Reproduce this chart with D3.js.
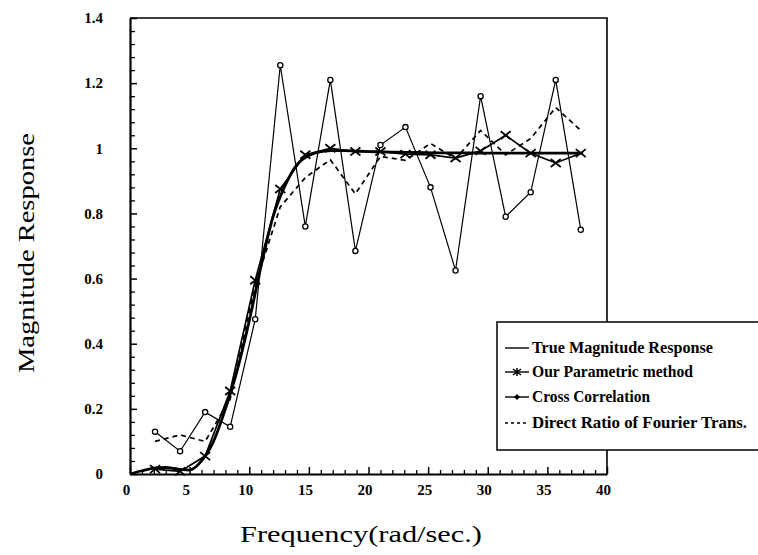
<!DOCTYPE html>
<html>
<head>
<meta charset="utf-8">
<script src="https://cdn.jsdelivr.net/npm/d3@7"></script>
<style>
  body { margin: 0; background: #fff; }
  text { font-family: 'Liberation Serif', 'DejaVu Serif', serif; fill: #000; }
</style>
</head>
<body>
<div id="grafico"></div>
<script>
// sample frequencies (rad/sec) of the estimates
const freq = [2.1, 4.2, 6.3, 8.4, 10.5, 12.6, 14.7, 16.8, 18.9, 21.0, 23.1, 25.2, 27.3, 29.4, 31.5, 33.6, 35.7, 37.8]
const parametric = [0.015, 0.008, 0.055, 0.255, 0.595, 0.875, 0.98, 1.0, 0.99, 0.99, 0.982, 0.98, 0.97, 0.992, 1.04, 0.985, 0.955, 0.985]
const crossCorr = [0.13, 0.07, 0.19, 0.145, 0.475, 1.255, 0.76, 1.21, 0.685, 1.01, 1.065, 0.88, 0.625, 1.16, 0.79, 0.865, 1.21, 0.75]
const directRatio = [0.10, 0.12, 0.10, 0.23, 0.58, 0.82, 0.91, 0.965, 0.86, 0.975, 0.963, 1.015, 0.968, 1.055, 0.98, 1.03, 1.125, 1.055]

// true magnitude response
const trueFreq = [0, 1, 2, 3, 4, 5, 6, 7, 8, 9, 10, 11, 12, 13, 14, 15, 16, 17, 18, 19, 20, 22, 24, 26, 28, 30, 32, 34, 36, 38]
const trueMag = [0, 0.01, 0.018, 0.02, 0.015, 0.012, 0.04, 0.1, 0.2, 0.32, 0.47, 0.64, 0.79, 0.885, 0.95, 0.978, 0.99, 0.993, 0.993, 0.991, 0.99, 0.988, 0.987, 0.986, 0.986, 0.985, 0.985, 0.985, 0.985, 0.985]

const xTicks = [0, 5, 10, 15, 20, 25, 30, 35, 40]
const yTicks = [0, 0.2, 0.4, 0.6, 0.8, 1, 1.2, 1.4]
const xMinor = [1, 2, 3, 4, 6, 7, 8, 9, 11, 12, 13, 14, 16, 17, 18, 19, 21, 22, 23, 24, 26, 27, 28, 29, 31, 32, 33, 34, 36, 37, 38, 39]
const yMinor = [0.04, 0.08, 0.12, 0.16, 0.24, 0.28, 0.32, 0.36, 0.44, 0.48, 0.52, 0.56, 0.64, 0.68, 0.72, 0.76, 0.84, 0.88, 0.92, 0.96, 1.04, 1.08, 1.12, 1.16, 1.24, 1.28, 1.32, 1.36]

const legendItems = ['True Magnitude Response', 'Our Parametric method', 'Cross Correlation', 'Direct Ratio of Fourier Trans.']

const width = 758
const height = 555

const svg = d3.select('#grafico')
              .append('svg')
              .attr('width', width)
              .attr('height', height)

const x = d3.scaleLinear().domain([0, 40]).range([130, 607])
const y = d3.scaleLinear().domain([0, 1.4]).range([474, 18])

// frame (top and right sides)
svg.append('path')
   .attr('d', `M${x(0)},${y(1.4)}H${x(40)}V${y(0)}`)
   .attr('fill', 'none')
   .attr('stroke', '#000')
   .attr('stroke-width', 1.6)

// minor ticks
svg.append('g')
   .attr('transform', `translate(0,${y(0)})`)
   .call(d3.axisBottom(x).tickValues(xMinor).tickSize(-4).tickSizeOuter(0).tickFormat(''))
   .call(g => g.select('.domain').remove())
   .selectAll('line').attr('stroke-width', 1.3)

svg.append('g')
   .attr('transform', `translate(${x(0)},0)`)
   .call(d3.axisLeft(y).tickValues(yMinor).tickSize(-5).tickSizeOuter(0).tickFormat(''))
   .call(g => g.select('.domain').remove())
   .selectAll('line').attr('stroke-width', 1.3)

// major axes
const xAxis = svg.append('g')
                 .attr('transform', `translate(0,${y(0)})`)
                 .call(d3.axisBottom(x).tickValues(xTicks).tickSize(-7).tickSizeOuter(0).tickPadding(10).tickFormat(d3.format('d')))

xAxis.select('.domain').attr('stroke-width', 2.2)
xAxis.selectAll('line').attr('stroke-width', 1.5)
xAxis.selectAll('text')
     .attr('dx', -4)
     .style('font-size', '15px')
     .style('font-weight', 'bold')
     .style('font-family', "'Liberation Serif', serif")

const yAxis = svg.append('g')
                 .attr('transform', `translate(${x(0)},0)`)
                 .call(d3.axisLeft(y).tickValues(yTicks).tickSize(-7).tickSizeOuter(0).tickPadding(27).tickFormat(d => d))

yAxis.select('.domain').attr('stroke-width', 2.2)
yAxis.selectAll('line').attr('stroke-width', 1.5)
yAxis.selectAll('text')
     .style('font-size', '15px')
     .style('font-weight', 'bold')
     .style('font-family', "'Liberation Serif', serif")

// axis titles
svg.append('text')
   .attr('transform', `translate(34,${253}) rotate(-90)`)
   .attr('text-anchor', 'middle')
   .attr('textLength', 240)
   .attr('lengthAdjust', 'spacingAndGlyphs')
   .style('font-size', '23px')
   .text('Magnitude Response')

svg.append('text')
   .attr('x', 361)
   .attr('y', 542)
   .attr('text-anchor', 'middle')
   .attr('textLength', 242)
   .attr('lengthAdjust', 'spacingAndGlyphs')
   .style('font-size', '23px')
   .text('Frequency(rad/sec.)')

// series
const idx = d3.range(freq.length)
const line = values => d3.line().x(i => x(freq[i])).y(i => y(values[i]))(idx)

svg.append('path')
   .attr('d', line(crossCorr))
   .attr('fill', 'none')
   .attr('stroke', '#000')
   .attr('stroke-width', 1.2)

svg.append('path')
   .attr('d', line(directRatio))
   .attr('fill', 'none')
   .attr('stroke', '#000')
   .attr('stroke-width', 1.7)
   .attr('stroke-dasharray', '5,4')

svg.append('path')
   .attr('d', line(parametric))
   .attr('fill', 'none')
   .attr('stroke', '#000')
   .attr('stroke-width', 1.7)

svg.append('path')
   .datum(trueFreq.map((f, i) => [f, trueMag[i]]))
   .attr('d', d3.line().x(d => x(d[0])).y(d => y(d[1])).curve(d3.curveMonotoneX))
   .attr('fill', 'none')
   .attr('stroke', '#000')
   .attr('stroke-width', 2.8)

svg.append('g')
   .selectAll('path')
   .data(idx)
   .enter()
   .append('path')
   .attr('transform', i => `translate(${x(freq[i])},${y(parametric[i])})`)
   .attr('d', 'M-5,-4L5,4M-5,4L5,-4')
   .attr('stroke', '#000')
   .attr('stroke-width', 1.8)

svg.append('g')
   .selectAll('circle')
   .data(idx)
   .enter()
   .append('circle')
   .attr('cx', i => x(freq[i]))
   .attr('cy', i => y(crossCorr[i]))
   .attr('r', 2.6)
   .attr('fill', '#fff')
   .attr('stroke', '#000')
   .attr('stroke-width', 1.3)

// legend
const legend = svg.append('g')

legend.append('rect')
      .attr('x', 497)
      .attr('y', 322)
      .attr('width', 275)
      .attr('height', 128)
      .attr('fill', '#fff')
      .attr('stroke', '#000')
      .attr('stroke-width', 1.5)

const legendY = [348, 372, 397, 423]
const legendWidths = [181, 161, 118, 215]

legend.selectAll('line')
      .data(legendItems)
      .enter()
      .append('line')
      .attr('x1', 505)
      .attr('x2', 529)
      .attr('y1', (d, i) => legendY[i])
      .attr('y2', (d, i) => legendY[i])
      .attr('stroke', '#000')
      .attr('stroke-width', 1.4)
      .attr('stroke-dasharray', (d, i) => i === 3 ? '3,3' : null)

legend.append('path')
      .attr('transform', `translate(517,${legendY[1]})`)
      .attr('d', 'M-4,-3L4,3M-4,3L4,-3M0,-4V4')
      .attr('stroke', '#000')
      .attr('stroke-width', 1.5)

legend.append('path')
      .attr('transform', `translate(517,${legendY[2]})`)
      .attr('d', 'M0,-3L3,0L0,3L-3,0Z')
      .attr('fill', '#000')

legend.selectAll('text')
      .data(legendItems)
      .enter()
      .append('text')
      .attr('x', 532)
      .attr('y', (d, i) => legendY[i] + 5)
      .attr('textLength', (d, i) => legendWidths[i])
      .attr('lengthAdjust', 'spacingAndGlyphs')
      .style('font-size', '17px')
      .style('font-weight', 'bold')
      .text(d => d)
</script>
</body>
</html>
